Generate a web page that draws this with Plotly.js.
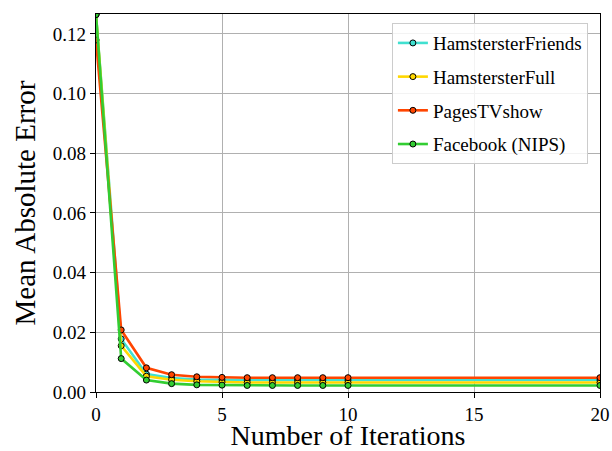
<!DOCTYPE html>
<html>
<head>
<meta charset="utf-8">
<script src="https://cdn.plot.ly/plotly-3.0.1.min.js"></script>
<style>
html,body{margin:0;padding:0;background:#fff;}
#chart{width:612px;height:451px;}
html body div#chart.js-plotly-plot .plotly .main-svg text,
html body div#chart.js-plotly-plot .plotly .main-svg g text,
html body div#chart.js-plotly-plot .plotly .main-svg tspan { font-family: "Liberation Serif", "Times New Roman", serif !important; }
</style>
</head>
<body>
<div id="chart"></div>
<script>
const iterations = [0, 1, 2, 3, 4, 5, 6, 7, 8, 9, 10, 20];
const hamsterFriends = [0.1265, 0.0178, 0.0060, 0.0047, 0.0042, 0.0040, 0.0040, 0.0040, 0.0040, 0.0040, 0.0040, 0.0040];
const hamsterFull    = [0.1265, 0.0155, 0.0053, 0.0041, 0.0036, 0.0033, 0.0032, 0.0032, 0.0032, 0.0032, 0.0032, 0.0032];
const pagesTVshow    = [0.1180, 0.0208, 0.0081, 0.0058, 0.0051, 0.0049, 0.0048, 0.0048, 0.0048, 0.0048, 0.0048, 0.0048];
const facebookNIPS   = [0.1265, 0.0112, 0.0040, 0.0028, 0.0024, 0.0023, 0.0022, 0.0022, 0.0022, 0.0022, 0.0022, 0.0022];
const seriesNames = ["HamstersterFriends", "HamstersterFull", "PagesTVshow", "Facebook (NIPS)"];
const seriesColors = ["#40E0D0", "#FFD700", "#FF4500", "#32CD32"];
const seriesValues = [hamsterFriends, hamsterFull, pagesTVshow, facebookNIPS];

const traces = seriesValues.map((vals, i) => ({
  x: iterations,
  y: vals,
  name: seriesNames[i],
  legendgroup: "g" + i,
  type: "scatter",
  mode: "lines+markers",
  line: {color: seriesColors[i], width: 2.6},
  marker: {color: seriesColors[i], size: 6, line: {color: "#000", width: 1}}
}));

const serifFamily = "Liberation Serif";
const layout = {
  width: 612, height: 451,
  margin: {l: 96, r: 12, t: 14, b: 59},
  paper_bgcolor: "#fff", plot_bgcolor: "#fff",
  font: {family: serifFamily, color: "#000", size: 19},
  showlegend: true,
  legend: {
    x: 0.976, y: 0.976, xanchor: "right", yanchor: "top",
    bgcolor: "rgba(255,255,255,0.85)", bordercolor: "#cccccc", borderwidth: 1,
    font: {family: serifFamily, size: 19, color: "#000"},
    traceorder: "grouped", tracegroupgap: 6
  },
  xaxis: {
    range: [0, 20], dtick: 5, tick0: 0,
    showgrid: true, gridcolor: "#b0b0b0", gridwidth: 1,
    zeroline: false, showline: true, linecolor: "#000", linewidth: 1.2, mirror: true,
    ticks: "outside", ticklen: 5, tickcolor: "#000",
    tickfont: {family: serifFamily, size: 19},
    title: {text: "Number of Iterations", font: {family: serifFamily, size: 28}, standoff: 8}
  },
  yaxis: {
    range: [0, 0.1267], dtick: 0.02, tick0: 0, tickformat: ".2f",
    showgrid: true, gridcolor: "#b0b0b0", gridwidth: 1,
    zeroline: false, showline: true, linecolor: "#000", linewidth: 1.2, mirror: true,
    ticks: "outside", ticklen: 5, tickcolor: "#000",
    tickfont: {family: serifFamily, size: 19},
    title: {text: "Mean Absolute Error", font: {family: serifFamily, size: 29}, standoff: 8}
  }
};

function forceSerif(el) {
  el.querySelectorAll("text, tspan").forEach(t => {
    t.style.setProperty("font-family", "'Liberation Serif', 'Times New Roman', serif", "important");
  });
}

Plotly.newPlot("chart", traces, layout, {staticPlot: true, displayModeBar: false}).then(el => {
  forceSerif(el);
  el.on && el.on("plotly_afterplot", () => forceSerif(el));
});
</script>
</body>
</html>
